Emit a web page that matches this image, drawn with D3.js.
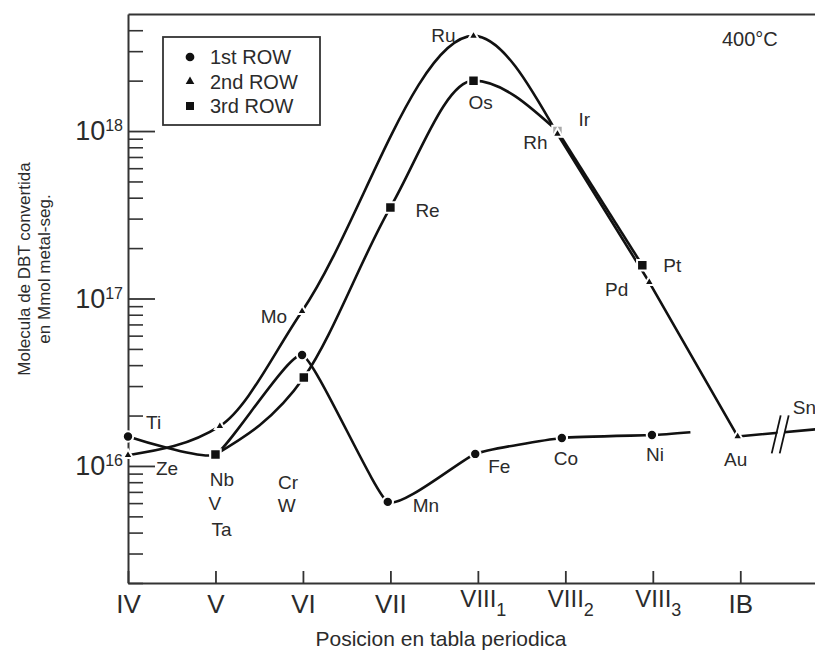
<!DOCTYPE html>
<html><head><meta charset="utf-8">
<script src="https://cdn.jsdelivr.net/npm/d3@7"></script>
<style>
body{margin:0;background:#fff}
svg{display:block}
text{font-family:"Liberation Sans",Arial,Helvetica,sans-serif;fill:#2b2b2b}
</style>
</head><body>
<svg id="c" width="815" height="656"></svg>
<script>
// ---------- data ----------
const groupLabels = ["IV","V","VI","VII","VIII","VIII","VIII","IB"];
const groupSubs   = ["","","","","1","2","3",""];
const yMajorTicks = [1e16, 1e17, 1e18];
const yMinorTicks = [2e15,3e15,4e15,5e15,6e15,7e15,8e15,9e15,
                     2e16,3e16,4e16,5e16,6e16,7e16,8e16,9e16,
                     2e17,3e17,4e17,5e17,6e17,7e17,8e17,9e17,
                     2e18,3e18,4e18];

// 1st row (circles)
const row1Names  = ["Ti","V","Cr","Mn","Fe","Co","Ni",""];
const row1Pos    = [0, 1.0, 1.99, 2.97, 3.97, 4.96, 5.99, 6.43];
const row1Values = [1.5e16, 1.17e16, 4.6e16, 6.1e15, 1.18e16, 1.47e16, 1.53e16, 1.59e16];

// 2nd row (triangles)
const row2Names  = ["Ze","Nb","Mo","Ru","Rh","Pd","Au","Sn"];
const row2Pos    = [0, 1.05, 1.99, 3.95, 4.91, 5.96, 6.97, 8.0];
const row2Values = [1.16e16, 1.73e16, 8.4e16, 3.7e18, 9.6e17, 1.25e17, 1.5e16, 1.68e16];

// 3rd row (squares)
const row3Names  = ["Ta","W","Re","Os","Ir","Pt"];
const row3Pos    = [1.0, 2.01, 3.0, 3.95, 4.91, 5.88];
const row3Values = [1.17e16, 3.37e16, 3.5e17, 2.0e18, 1.0e18, 1.58e17];

const legendLabels = ["1st ROW","2nd ROW","3rd ROW"];
const tempLabel = "400°C";
const xTitle = "Posicion en tabla periodica";
const yTitle = ["Molecula de DBT convertida","en Mmol metal-seg."];

// ---------- layout ----------
const svg = d3.select("#c");
const L = 128, B = 583, T = 14;
const x = d3.scaleLinear().domain([0, 7.9]).range([L, 819]);
const y = d3.scaleLog().domain([2e15, 5e18]).range([B, T]);
const ink = "#111";

// label offsets (dx, dy, anchor) relative to each element's own marker
const labelOffsets = {
  Ti:[18,-7,"start"], Ze:[28,20,"start"],
  V:[-7,55,"start"], Nb:[-10,60,"start"], Ta:[-4,81,"start"],
  Cr:[-24,134,"start"], W:[-26,134,"start"],
  Mo:[-15,12,"end"], Mn:[25,10,"start"], Re:[25,10,"start"],
  Fe:[13,19,"start"], Ru:[-18,6,"end"], Os:[-5,28,"start"],
  Ir:[21,-5,"start"], Rh:[-10,15,"end"], Co:[4,27,"middle"],
  Pd:[-21,14,"end"], Pt:[21,7,"start"], Ni:[3,26,"middle"],
  Au:[-2,30,"middle"], Sn:[-35,-14,"start"]
};

// ---------- axes ----------
svg.append("g").attr("transform",`translate(${L},0)`)
  .call(d3.axisLeft(y).tickValues(yMinorTicks).tickSize(-15).tickSizeOuter(0).tickFormat(""))
  .call(g => g.select(".domain").remove())
  .call(g => g.selectAll("line").attr("stroke","#333").attr("stroke-width",1.6));
const gy = svg.append("g").attr("transform",`translate(${L},0)`)
  .call(d3.axisLeft(y).tickValues(yMajorTicks).tickSize(-27).tickSizeOuter(0).tickPadding(5)
        .tickFormat(() => "10"));
gy.select(".domain").attr("stroke","#333").attr("stroke-width",2);
gy.selectAll("line").attr("stroke","#333").attr("stroke-width",1.8);
gy.selectAll("text").attr("font-size",27).attr("fill","#2b2b2b").attr("font-family",null)
  .each(function(d){
    d3.select(this).append("tspan").attr("dy",-9).attr("font-size",16)
      .text(Math.round(Math.log10(d)));
  });

const gx = svg.append("g").attr("transform",`translate(0,${B})`)
  .call(d3.axisBottom(x).tickValues(d3.range(groupLabels.length)).tickSize(-12).tickSizeOuter(0).tickFormat(""));
gx.select(".domain").attr("stroke","#333").attr("stroke-width",2);
gx.selectAll("line").attr("stroke","#333").attr("stroke-width",1.8);
gx.selectAll(".tick").each(function(d){
  const g = d3.select(this);
  const sub = groupSubs[d];
  const t = g.append("text").attr("y", sub ? 24 : 30).attr("font-size", sub ? 24 : 26).text(groupLabels[d]);
  if (sub) {
    const w = t.node().getComputedTextLength();
    t.attr("text-anchor","start").attr("x", -w/2);
    t.append("tspan").attr("dy",9).attr("font-size",18).text(sub);
  } else {
    t.attr("text-anchor","middle");
  }
});
svg.append("g").attr("transform",`translate(0,${T})`)
  .call(d3.axisTop(x).tickValues([]).tickSizeOuter(0))
  .call(g => g.select(".domain").attr("stroke","#333").attr("stroke-width",2));

svg.append("text").attr("x",441).attr("y",646).attr("text-anchor","middle")
  .attr("font-size",21).text(xTitle);
yTitle.forEach((t,i) => {
  svg.append("text").attr("transform",`translate(${30 + i*20},269) rotate(-90)`)
    .attr("text-anchor","middle").attr("font-size",17).text(t);
});

// ---------- series ----------
function pts(names, pos, vals){ return names.map((n,i)=>({name:n, p:pos[i], v:vals[i]})); }
const row1 = pts(row1Names,row1Pos,row1Values);
const row2 = pts(row2Names,row2Pos,row2Values);
const row3 = pts(row3Names,row3Pos,row3Values);

const lineMono = d3.line().x(d=>x(d.p)).y(d=>y(d.v)).curve(d3.curveMonotoneX);
const lineCard = d3.line().x(d=>x(d.p)).y(d=>y(d.v)).curve(d3.curveCardinal.tension(0.55));
const lineLin  = d3.line().x(d=>x(d.p)).y(d=>y(d.v));

const plot = svg.append("g");
function stroke(sel){ return sel.attr("fill","none").attr("stroke",ink).attr("stroke-width",2.6).attr("stroke-linejoin","round"); }
stroke(plot.append("path").datum(row1).attr("d",lineCard));
// rising part and peak drawn smooth, the falling branch after Rh / Ir is a straight run
const k2 = row2Names.indexOf("Rh"), k3 = row3Names.indexOf("Ir");
stroke(plot.append("path").datum(row3.slice(0,k3+1)).attr("d",lineMono));
stroke(plot.append("path").datum(row3.slice(k3)).attr("d",lineLin));
stroke(plot.append("path").datum(row2.slice(0,k2+1)).attr("d",lineMono));
stroke(plot.append("path").datum(row2.slice(k2)).attr("d",lineLin));

// axis break between Au and Sn
const au = row2[row2Names.indexOf("Au")], sn = row2[row2Names.indexOf("Sn")];
const bx = x((au.p + sn.p)/2) - 2;
const by = y(Math.sqrt(au.v*sn.v));
plot.append("polygon")
  .attr("points",[[bx-8,by+21],[bx+1,by-17],[bx+8,by-17],[bx-1,by+21]].map(p=>p.join(",")).join(" "))
  .attr("fill","#fff");
[[-9,0],[-1,8]].forEach(([a,b])=>{
  plot.append("line").attr("x1",bx+a).attr("y1",by+21).attr("x2",bx+b).attr("y2",by-17)
    .attr("stroke",ink).attr("stroke-width",1.8);
});

// markers
const sym = {
  circle: d3.symbol().type(d3.symbolCircle).size(85),
  triangle: d3.symbol().type(d3.symbolTriangle).size(42),
  square: d3.symbol().type(d3.symbolSquare).size(110)
};
function markers(data, type, fill){
  plot.selectAll(null).data(data.filter(d=>d.name!=="")).enter().append("path")
    .attr("transform",d=>`translate(${x(d.p)},${y(d.v)})`)
    .attr("d",sym[type]).attr("fill",d=>fill(d)).attr("stroke","#fff").attr("stroke-width",2);
}
markers(row1,"circle",()=>ink);
markers(row3,"square",d=> d.name==="Ir" ? "#aaa" : ink);
markers(row2,"triangle",()=>ink);

// point labels
[row1,row2,row3].forEach(rows => rows.forEach(d => {
  const o = labelOffsets[d.name];
  if (!o) return;
  svg.append("text").attr("x",x(d.p)+o[0]).attr("y",y(d.v)+o[1])
    .attr("text-anchor",o[2]).attr("font-size",19).text(d.name);
}));

svg.append("text").attr("x",722).attr("y",46).attr("font-size",20).text(tempLabel);

// ---------- legend ----------
const lg = svg.append("g").attr("transform","translate(163,37)");
lg.append("rect").attr("width",157).attr("height",88).attr("fill","#fff")
  .attr("stroke","#333").attr("stroke-width",1.8);
const legSym = [d3.symbol().type(d3.symbolCircle).size(60),
                d3.symbol().type(d3.symbolTriangle).size(32),
                d3.symbol().type(d3.symbolSquare).size(64)];
legendLabels.forEach((t,i)=>{
  lg.append("path").attr("transform",`translate(27,${20+i*24.5})`).attr("d",legSym[i]).attr("fill",ink);
  lg.append("text").attr("x",47).attr("y",27+i*24.5).attr("font-size",20).text(t);
});
</script>
</body></html>
